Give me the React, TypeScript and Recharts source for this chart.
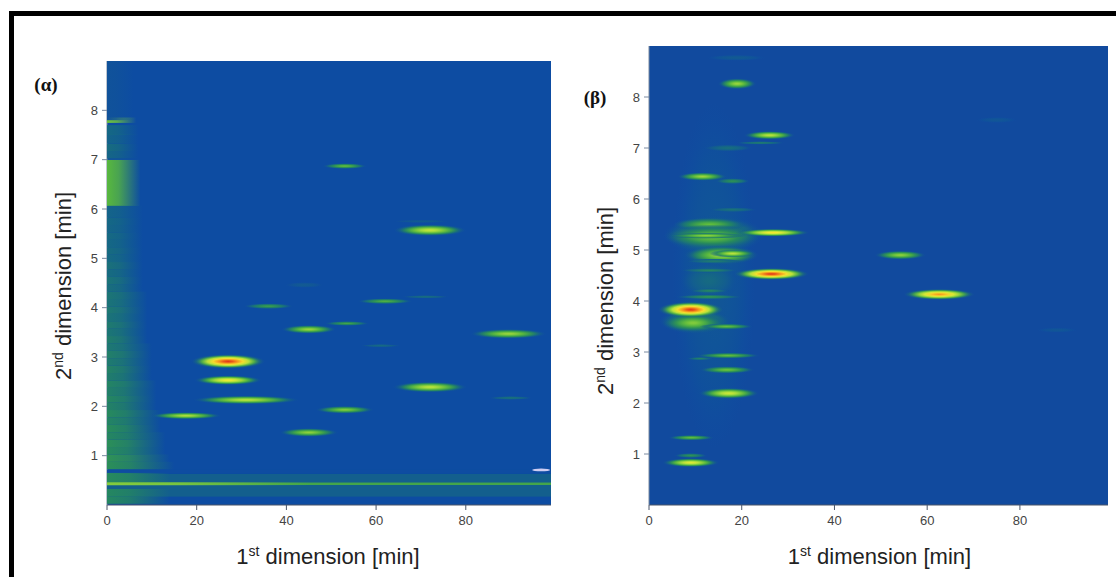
import React from 'react';
import { ScatterChart, Scatter, XAxis, YAxis, CartesianGrid } from 'recharts';

// Chromatogram peaks, all in minutes: centre, half width, half height, plus colour level 0..1
const alphaPeakX = [27, 27, 31, 17.6, 45, 72, 53, 45, 36, 53.5, 62, 71, 61, 72, 53, 89.5, 90, 44, 70];
const alphaPeakY = [2.91, 2.53, 2.13, 1.81, 1.47, 2.39, 1.93, 3.56, 4.03, 3.68, 4.13, 4.22, 3.23, 5.57, 6.87, 3.47, 2.17, 4.46, 5.75];
const alphaPeakWidth = [8.4, 7.6, 12, 8, 6.6, 8.4, 6.6, 6.2, 5.6, 5, 6.2, 5.4, 4.6, 8.2, 5, 8.6, 5, 4.4, 6.4];
const alphaPeakHeight = [0.15, 0.1, 0.09, 0.075, 0.09, 0.11, 0.08, 0.09, 0.06, 0.05, 0.06, 0.035, 0.035, 0.12, 0.06, 0.1, 0.04, 0.06, 0.035];
const alphaPeakLevel = [1, 0.72, 0.6, 0.58, 0.52, 0.6, 0.5, 0.54, 0.34, 0.36, 0.4, 0.16, 0.14, 0.62, 0.44, 0.54, 0.18, 0.07, 0.07];

const betaPeakX = [14, 14, 13, 10, 18.8, 19, 17, 24, 26, 18, 11.5, 18, 13, 13.5, 12.4, 26.7, 15.6, 18, 14, 13, 13, 13, 9.5, 16.7, 9, 26.4, 54.2, 62.6, 17, 11, 16.8, 17.2, 9.1, 9, 9, 88, 75];
const betaPeakY = [4.5, 5.3, 4.4, 3.6, 8.77, 8.26, 7, 7.1, 7.25, 6.35, 6.44, 5.79, 5.5, 5.26, 5.28, 5.34, 4.9, 4.93, 4.78, 4.6, 4.2, 4.08, 3.57, 3.5, 3.83, 4.53, 4.9, 4.13, 2.93, 2.87, 2.65, 2.19, 1.32, 0.97, 0.83, 3.43, 7.55];
const betaPeakWidth = [9, 11, 6.5, 8, 6.4, 4.2, 5.4, 5.4, 5.6, 3.8, 5.4, 5.4, 8, 10.5, 8.6, 8, 8.2, 5, 6.4, 6.4, 4.4, 7.4, 6.8, 5.8, 7.2, 8.2, 5.6, 7.8, 7, 2.9, 6, 6.6, 5, 3.6, 6.2, 4.4, 4.4];
const betaPeakHeight = [3.4, 0.38, 0.4, 0.25, 0.06, 0.11, 0.07, 0.035, 0.085, 0.06, 0.085, 0.05, 0.14, 0.24, 0.06, 0.08, 0.19, 0.08, 0.05, 0.05, 0.05, 0.05, 0.18, 0.06, 0.16, 0.12, 0.09, 0.11, 0.06, 0.035, 0.075, 0.11, 0.055, 0.05, 0.09, 0.05, 0.06];
const betaPeakLevel = [0.05, 0.32, 0.14, 0.32, 0.07, 0.54, 0.16, 0.22, 0.6, 0.3, 0.54, 0.18, 0.44, 0.46, 0.52, 0.74, 0.54, 0.6, 0.22, 0.26, 0.26, 0.32, 0.5, 0.44, 1, 1, 0.52, 0.88, 0.44, 0.24, 0.46, 0.64, 0.44, 0.3, 0.68, 0.05, 0.05];

// Solvent tail on the left edge of the first panel
const tailY = [0.1, 0.25, 0.55, 0.8, 0.95, 1.1, 1.25, 1.4, 1.55, 1.7, 1.85, 2, 2.15, 2.3, 2.45, 2.6, 2.75, 2.9, 3.05, 3.2, 3.35, 3.5, 3.65, 3.8, 3.95, 4.1, 4.25, 4.4, 4.55, 4.7, 4.85, 5, 5.15, 5.3, 5.45, 5.6, 5.75, 5.95, 6.53, 7.1, 7.25, 7.42, 7.6, 7.8, 8.4];
const tailLevel = [0.26, 0.26, 0.27, 0.29, 0.3, 0.27, 0.29, 0.26, 0.28, 0.25, 0.27, 0.24, 0.26, 0.23, 0.25, 0.22, 0.24, 0.21, 0.23, 0.2, 0.22, 0.19, 0.21, 0.18, 0.2, 0.18, 0.19, 0.16, 0.18, 0.15, 0.17, 0.14, 0.15, 0.13, 0.14, 0.12, 0.13, 0.11, 0.42, 0.12, 0.15, 0.11, 0.13, 0.46, 0.03];
const tailThickness = [0.15, 0.15, 0.2, 0.15, 0.15, 0.15, 0.15, 0.15, 0.15, 0.15, 0.15, 0.15, 0.15, 0.15, 0.15, 0.15, 0.15, 0.15, 0.15, 0.15, 0.15, 0.15, 0.15, 0.15, 0.15, 0.15, 0.15, 0.15, 0.15, 0.15, 0.15, 0.15, 0.15, 0.15, 0.15, 0.15, 0.15, 0.25, 0.93, 0.15, 0.15, 0.18, 0.2, 0.11, 1.2];
const tailReach = [14, 14, 14, 15, 14, 13, 13, 13, 12, 12, 12, 11, 11, 11, 11, 10, 10, 10, 10, 10, 9, 9, 9, 9, 9, 9, 9, 8, 8, 8, 8, 8, 8, 8, 8, 8, 8, 8, 7.5, 7, 7, 7, 7, 6.5, 6];

// Lines that run the whole first dimension
const lineY = [0.4, 0.43, 0.68];
const lineThickness = [0.46, 0.05, 0.07];
const lineLevel = [0.09, 0.36, 0];
const brightLineY = [0.43];
const brightLineLevel = [0.5];
const blipX = [96.8];
const blipY = [0.71];

const xTicks = [0, 20, 40, 60, 80];
const yTicks = [1, 2, 3, 4, 5, 6, 7, 8];
const X_MAX = 99;
const Y_MAX = 9;

const colorStops: [number, number[]][] = [
  [0, [14, 76, 161]],
  [0.14, [22, 106, 130]],
  [0.28, [40, 140, 90]],
  [0.42, [88, 184, 62]],
  [0.58, [176, 224, 60]],
  [0.72, [244, 236, 50]],
  [0.86, [248, 166, 32]],
  [1, [226, 56, 24]],
];

const colorOf = (level: number) => {
  const t = Math.max(0, Math.min(1, level));
  for (let i = 1; i < colorStops.length; i++) {
    const [t1, c1] = colorStops[i];
    const [t0, c0] = colorStops[i - 1];
    if (t <= t1) {
      const k = (t - t0) / (t1 - t0);
      const c = c0.map((v, j) => Math.round(v + (c1[j] - v) * k));
      return `rgb(${c[0]},${c[1]},${c[2]})`;
    }
  }
  return 'rgb(226,56,24)';
};

const RADIAL_STEPS = [0, 0.12, 0.25, 0.4, 0.55, 0.7, 0.85, 1];

interface PanelProps {
  name: string;
  left: number;
  width: number;
  plotLeft: number;
  plotRight: number;
  plotTop: number;
  plotBottom: number;
  background: string;
  peakX: number[];
  peakY: number[];
  peakWidth: number[];
  peakHeight: number[];
  peakLevel: number[];
  hasTail?: boolean;
  labelX: number;
  labelY: number;
  tagX: number;
  tagY: number;
  tag: string;
}

const Panel: React.FC<PanelProps> = (p) => {
  const plotW = p.plotRight - p.plotLeft;
  const plotH = p.plotBottom - p.plotTop;
  const pxX = plotW / X_MAX;
  const pxY = plotH / Y_MAX;

  const peaks = p.peakX.map((x, i) => ({
    x, y: p.peakY[i], w: p.peakWidth[i], h: p.peakHeight[i], level: p.peakLevel[i], id: `${p.name}-p${i}`,
  }));
  const tail = p.hasTail
    ? tailY.map((y, i) => ({ x: 0, y, h: tailThickness[i], w: tailReach[i], level: tailLevel[i], id: `${p.name}-t${i}` }))
    : [];
  const lines = p.hasTail ? lineY.map((y, i) => ({ x: 0, y, h: lineThickness[i], level: lineLevel[i] })) : [];
  const bright = p.hasTail
    ? brightLineY.map((y, i) => ({ x: 0, y, h: 0.06, w: 45, level: brightLineLevel[i], id: `${p.name}-b${i}` }))
    : [];
  const blips = p.hasTail ? blipX.map((x, i) => ({ x, y: blipY[i] })) : [];

  const peakShape = (s: any) => {
    const d = s.payload;
    return (
      <g>
        <defs>
          <radialGradient id={d.id}>
            {RADIAL_STEPS.map((f) => (
              <stop
                key={f}
                offset={f}
                stopColor={colorOf(d.level * (1 - Math.pow(f, 1.5)))}
                stopOpacity={Math.min(1, (1 - f) * 3)}
              />
            ))}
          </radialGradient>
        </defs>
        <ellipse cx={s.cx} cy={s.cy} rx={d.w * pxX} ry={d.h * pxY} fill={`url(#${d.id})`} />
      </g>
    );
  };

  const tailShape = (s: any) => {
    const d = s.payload;
    return (
      <g>
        <defs>
          <linearGradient id={d.id}>
            <stop offset={0} stopColor={colorOf(d.level)} />
            <stop offset={0.35} stopColor={colorOf(d.level)} stopOpacity={0.8} />
            <stop offset={1} stopColor={colorOf(d.level)} stopOpacity={0} />
          </linearGradient>
        </defs>
        <rect x={s.cx} y={s.cy - (d.h * pxY) / 2} width={d.w * pxX} height={d.h * pxY} fill={`url(#${d.id})`} />
      </g>
    );
  };

  const lineShape = (s: any) => {
    const d = s.payload;
    return <rect x={s.cx} y={s.cy - (d.h * pxY) / 2} width={plotW} height={d.h * pxY} fill={colorOf(d.level)} />;
  };

  const blipShape = (s: any) => <ellipse cx={s.cx} cy={s.cy} rx={9} ry={1.4} fill="#cfcdf2" />;

  const axisLabel = (first: string, suffix: string, x: number, y: number, rotate: boolean) => (
    <text
      x={x}
      y={y}
      fill="#222"
      fontSize={22}
      fontFamily="Liberation Sans, Arial, sans-serif"
      textAnchor="middle"
      transform={rotate ? `rotate(-90 ${x} ${y})` : undefined}
    >
      {first}
      <tspan dy={-8} fontSize={14}>{suffix}</tspan>
      <tspan dy={8}> dimension [min]</tspan>
    </text>
  );

  const tickStyle = { fill: '#444', fontSize: 13, fontFamily: 'Liberation Sans, Arial, sans-serif' };

  return (
    <div style={{ position: 'absolute', left: p.left, top: 0 }}>
      <ScatterChart
        width={p.width}
        height={577}
        margin={{ top: p.plotTop, right: p.width - p.plotRight, left: p.plotLeft - 40, bottom: 577 - p.plotBottom - 40 }}
      >
        <CartesianGrid horizontal={false} vertical={false} fill={p.background} />
        <XAxis
          type="number"
          dataKey="x"
          domain={[0, X_MAX]}
          ticks={xTicks}
          allowDataOverflow
          height={40}
          stroke="#4a5568"
          tick={tickStyle}
          tickSize={5}
          tickMargin={6}
          label={() => axisLabel('1', 'st', (p.plotLeft + p.plotRight) / 2 - 1 + p.labelX, 564, false)}
        />
        <YAxis
          type="number"
          dataKey="y"
          domain={[0, Y_MAX]}
          ticks={yTicks}
          allowDataOverflow
          width={40}
          stroke="#7a8aa0"
          tick={tickStyle}
          tickSize={5}
          tickMargin={4}
          label={() => axisLabel('2', 'nd', p.plotLeft - 36, p.labelY, true)}
        />
        <Scatter data={lines} shape={lineShape} isAnimationActive={false} />
        <Scatter data={tail} shape={tailShape} isAnimationActive={false} />
        <Scatter data={bright} shape={tailShape} isAnimationActive={false} />
        <Scatter data={blips} shape={blipShape} isAnimationActive={false} />
        <Scatter data={peaks} shape={peakShape} isAnimationActive={false} />
        <text
          x={p.tagX}
          y={p.tagY}
          fontFamily="Liberation Serif, serif"
          fontWeight="bold"
          fontSize={19}
          fill="#111"
          textAnchor="middle"
        >
          {p.tag}
        </text>
      </ScatterChart>
    </div>
  );
};

export default function App() {
  return (
    <div style={{ position: 'absolute', left: 0, top: 0, width: 1116, height: 577, overflow: 'hidden', background: '#fff' }}>
      <div style={{ position: 'absolute', left: 9, top: 11, right: 0, bottom: 0, borderTop: '5px solid #000', borderLeft: '5px solid #000' }} />
      <Panel
        name="alpha"
        left={0}
        width={560}
        plotLeft={107}
        plotRight={551}
        plotTop={61}
        plotBottom={505}
        background="#0d4ca2"
        peakX={alphaPeakX}
        peakY={alphaPeakY}
        peakWidth={alphaPeakWidth}
        peakHeight={alphaPeakHeight}
        peakLevel={alphaPeakLevel}
        hasTail
        labelX={0}
        labelY={286}
        tagX={46}
        tagY={91}
        tag="(α)"
      />
      <Panel
        name="beta"
        left={560}
        width={556}
        plotLeft={89}
        plotRight={548}
        plotTop={46}
        plotBottom={505}
        background="#114a9e"
        peakX={betaPeakX}
        peakY={betaPeakY}
        peakWidth={betaPeakWidth}
        peakHeight={betaPeakHeight}
        peakLevel={betaPeakLevel}
        labelX={2}
        labelY={301}
        tagX={35}
        tagY={104}
        tag="(β)"
      />
    </div>
  );
}
